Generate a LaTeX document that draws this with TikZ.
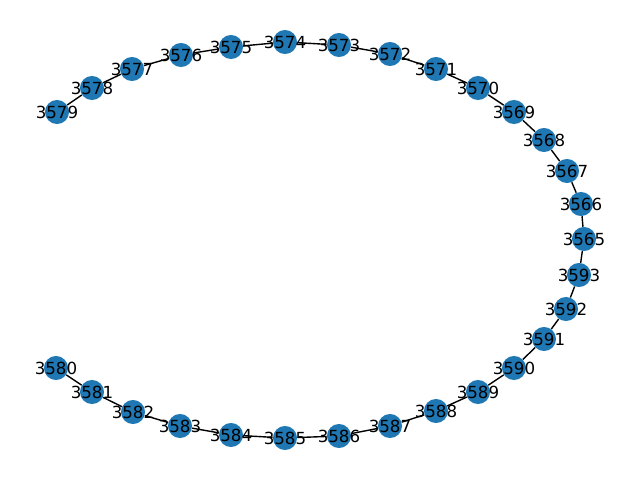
\documentclass[tikz,border=0pt]{standalone}
\usepackage{fontspec}
\setmainfont{DejaVu Sans}
\usetikzlibrary{backgrounds}
\definecolor{nodeblue}{HTML}{1F77B4}
\begin{document}
\begin{tikzpicture}[x=0.72pt,y=-0.72pt,
  vertex/.style={circle,fill=nodeblue,draw=none,minimum size=17.3pt,inner sep=0pt},
  lbl/.style={inner sep=0pt,font=\fontsize{12pt}{14pt}\selectfont,text=black},
  edge/.style={draw=black,line width=1pt}]
\useasboundingbox (0,0) rectangle (640,480);
\foreach \n/\x/\y in {
  3579/57/112, 3578/92/88, 3577/132/69, 3576/181/55, 3575/231/47,
  3574/285/42, 3573/339/45, 3572/390/54, 3571/436/69, 3570/478/88,
  3569/514/112, 3568/544/140, 3567/567/171, 3566/581/204, 3565/584/239,
  3593/579/275, 3592/566/309, 3591/544/339, 3590/514/368, 3589/478/392,
  3588/436/411, 3587/390/426, 3586/339/436, 3585/285/438, 3584/231/435,
  3583/180/426, 3582/133/412, 3581/92/392, 3580/56/368}
  { \node[vertex] (n\n) at (\x,\y) {}; }
\begin{pgfonlayer}{background}
\foreach \a/\b in {
  3579/3578, 3578/3577, 3577/3576, 3576/3575, 3575/3574, 3574/3573,
  3573/3572, 3572/3571, 3571/3570, 3570/3569, 3569/3568, 3568/3567,
  3567/3566, 3566/3565, 3565/3593, 3593/3592, 3592/3591, 3591/3590,
  3590/3589, 3589/3588, 3588/3587, 3587/3586, 3586/3585, 3585/3584,
  3584/3583, 3583/3582, 3582/3581, 3581/3580}
  { \draw[edge] (n\a) -- (n\b); }
\end{pgfonlayer}
\foreach \n in {3579,3578,3577,3576,3575,3574,3573,3572,3571,3570,3569,3568,3567,3566,3565,3593,3592,3591,3590,3589,3588,3587,3586,3585,3584,3583,3582,3581,3580}
  { \node[lbl] (t\n) at (n\n) {\n}; }
\end{tikzpicture}
\end{document}
